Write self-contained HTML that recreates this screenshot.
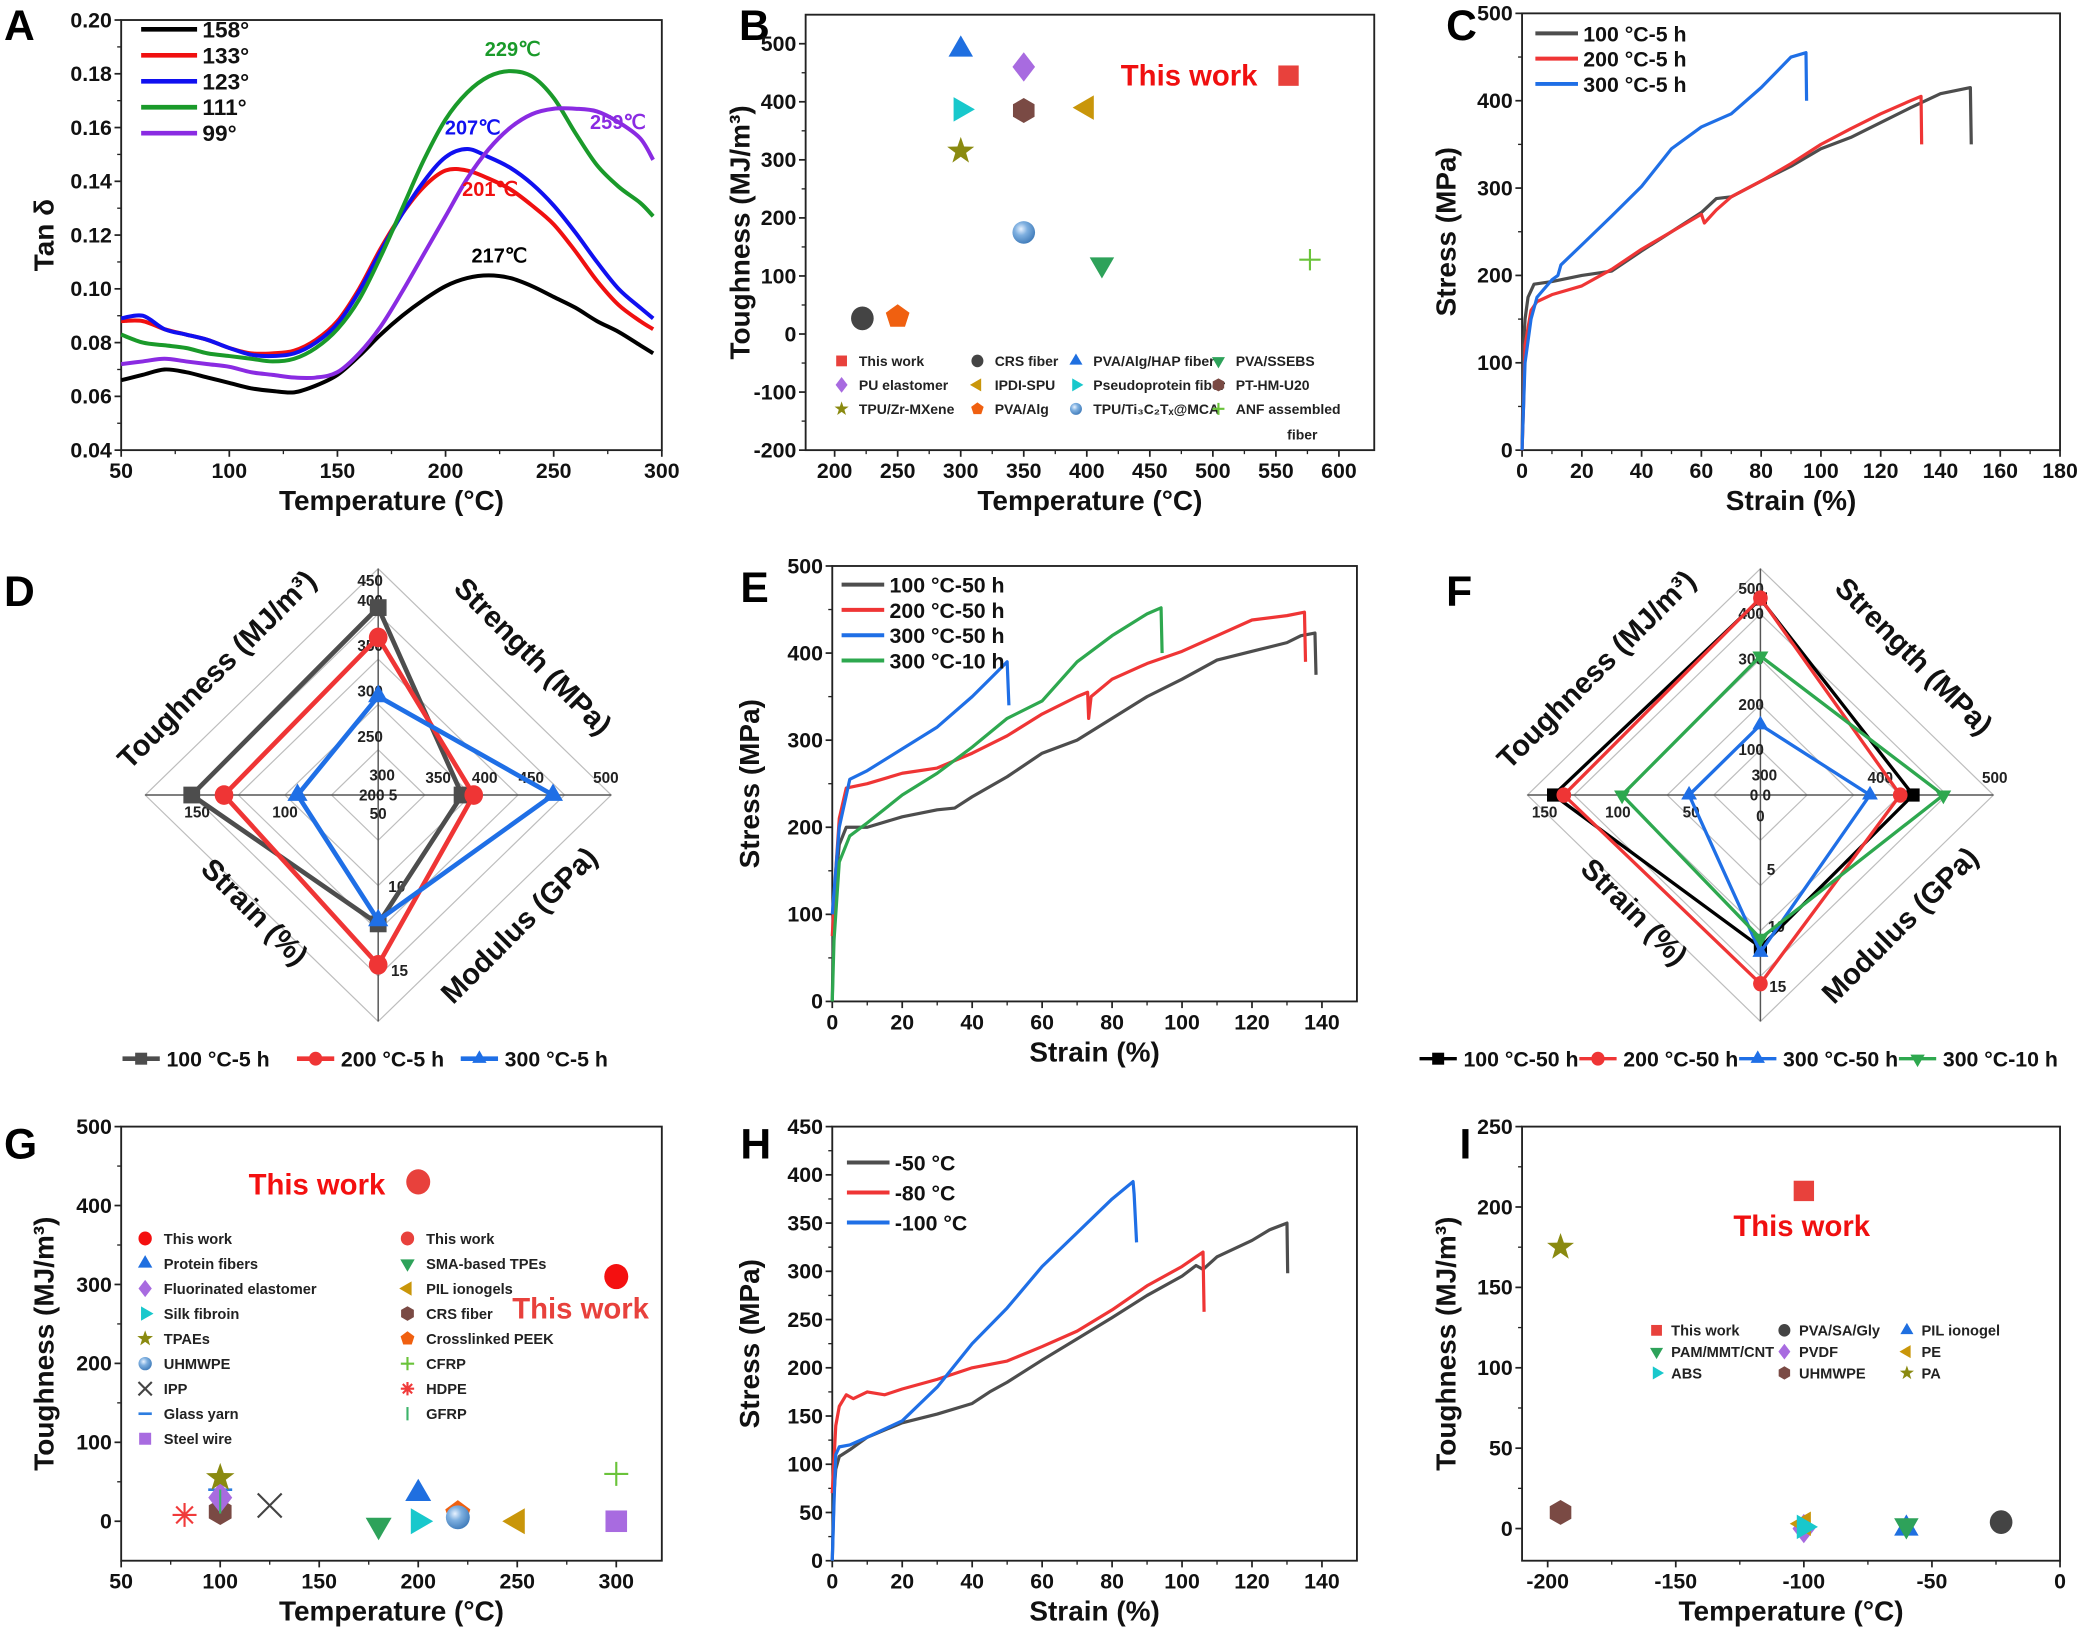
<!DOCTYPE html>
<html><head><meta charset="utf-8"><title>Composite figure</title>
<style>html,body{margin:0;padding:0;background:#fff}svg{display:block}text{font-family:"Liberation Sans",Arial,sans-serif;font-weight:bold}</style>
</head><body>
<svg id="fig" xmlns="http://www.w3.org/2000/svg" width="2088" height="1634" viewBox="0 0 1568 1227">
<defs><radialGradient id="sph" cx="0.38" cy="0.35" r="0.7"><stop offset="0" stop-color="#e8f2ff"/><stop offset="0.4" stop-color="#7fb0e0"/><stop offset="1" stop-color="#3d79b8"/></radialGradient></defs>
<rect x="0" y="0" width="1568" height="1227" fill="#fff"/>
</svg>
<script>
// ===== DATA =====
// Panel A
const aX=[50,60,70,80,90,100,110,120,130,140,150,160,170,180,190,200,210,220,230,240,250,260,270,280,290,296];
const a158=[.066,.068,.070,.069,.067,.065,.063,.062,.0615,.064,.068,.075,.083,.090,.096,.101,.104,.105,.104,.101,.097,.093,.088,.084,.079,.076];
const a133=[.088,.088,.085,.083,.081,.078,.076,.076,.077,.081,.088,.100,.115,.128,.138,.144,.144,.141,.137,.131,.124,.114,.103,.094,.088,.085];
const a123=[.089,.090,.085,.083,.081,.078,.0755,.075,.076,.080,.087,.099,.114,.128,.140,.149,.152,.149,.145,.139,.131,.121,.110,.100,.093,.089];
const a111=[.083,.080,.079,.078,.076,.075,.074,.073,.074,.078,.085,.096,.112,.130,.148,.163,.173,.179,.181,.179,.171,.158,.146,.138,.132,.127];
const a99=[.072,.073,.074,.073,.072,.071,.069,.068,.067,.067,.069,.076,.086,.099,.113,.127,.141,.152,.160,.165,.167,.167,.166,.162,.156,.148];
const aNames=['158°','133°','123°','111°','99°'];
const aXTicks=[50,100,150,200,250,300];
const aYTicks=[0.04,0.06,0.08,0.10,0.12,0.14,0.16,0.18,0.20];
// Panel B
const bNames=['This work','CRS fiber','PVA/Alg/HAP fiber','PVA/SSEBS','PU elastomer','IPDI-SPU','Pseudoprotein fiber','PT-HM-U20','TPU/Zr-MXene','PVA/Alg','TPU/Ti₃C₂Tₓ@MCA','ANF assembled'];
const bTemp=[560,222,300,412,350,400,300,350,300,250,350,577];
const bTough=[445,27,490,120,460,390,387,385,315,30,175,128];
const bXTicks=[200,250,300,350,400,450,500,550,600];
const bYTicks=[-200,-100,0,100,200,300,400,500];
// Panel C
const c100x=[0,0.5,1,2,4,10,20,30,40,50,60,65,70,80,90,100,110,120,130,140,150,150.3];
const c100y=[0,120,150,175,190,193,200,205,228,250,272,288,290,308,325,345,358,375,392,408,415,350];
const c200x=[0,0.5,1,3,5,10,20,30,40,50,60,61,65,70,80,90,100,110,120,130,133.5,133.7];
const c200y=[0,50,120,160,170,178,188,207,230,250,270,260,275,290,308,328,350,368,385,400,405,350];
const c300x=[0,1,3,5,10,12,13,20,30,40,50,60,70,80,90,95,95.2];
const c300y=[0,100,150,175,195,200,212,235,268,302,345,370,385,415,450,455,400];
const cXTicks=[0,20,40,60,80,100,120,140,160,180];
const cYTicks=[0,100,200,300,400,500];
// Panel D radar (toughness, strength, modulus, strain)
const dTough=[407,374,309];
const dStrength=[372,382,450];
const dModulus=[12.4,14.75,12.2];
const dStrain=[154,136,95];
const dNames=['100 °C-5 h','200 °C-5 h','300 °C-5 h'];
// Panel E
const e1x=[0,0.5,2,4,10,20,30,35,40,50,60,70,80,90,100,110,120,130,134,138,138.3];
const e1y=[0,120,180,200,200,212,220,222,235,258,285,300,325,350,370,392,402,412,420,423,375];
const e2x=[0,1,2,4,10,20,30,40,50,60,70,73,73.3,74,80,90,100,110,120,130,135,135.3];
const e2y=[75,150,210,245,250,262,268,285,305,330,350,355,325,350,370,388,402,420,438,443,447,390];
const e3x=[0,2,5,10,20,30,40,45,50,50.5];
const e3y=[100,200,255,265,290,315,350,370,390,340];
const e4x=[0,0.5,2,5,10,20,30,40,50,60,70,80,90,94,94.3];
const e4y=[0,70,160,190,205,237,262,292,325,345,390,420,445,452,400];
const eXTicks=[0,20,40,60,80,100,120,140];
const eYTicks=[0,100,200,300,400,500];
// Panel F radar
const fTough=[433,435,155,307];
const fStrength=[431,420,394,457];
const fModulus=[12.1,15,12.5,11.4];
const fStrain=[142,135,49,95];
const fNames=['100 °C-50 h','200 °C-50 h','300 °C-50 h','300 °C-10 h'];
// Panel G
const gNames=['This work','This work','Protein fibers','SMA-based TPEs','Fluorinated elastomer','PIL ionogels','Silk fibroin','CRS fiber','TPAEs','Crosslinked PEEK','UHMWPE','CFRP','IPP','HDPE','Glass yarn','GFRP','Steel wire'];
const gTemp=[300,200,200,180,100,250,200,100,100,220,220,300,125,82,100,100,300];
const gTough=[310,430,35,-5,30,0,0,12,55,10,5,60,20,8,40,25,0];
const gXTicks=[50,100,150,200,250,300];
const gYTicks=[0,100,200,300,400,500];
// Panel H
const h1x=[0,0.5,1,2,5,10,20,30,40,45,50,60,70,80,90,100,104,106,110,120,125,130,130.2];
const h1y=[0,70,95,108,115,128,143,152,163,175,185,208,230,252,275,295,306,302,315,332,343,350,298];
const h2x=[0,1,2,4,6,10,15,20,30,40,50,60,70,80,90,100,106,106.3];
const h2y=[70,140,160,172,168,175,172,178,188,200,207,222,238,260,285,305,320,258];
const h3x=[0,0.5,1,2,5,10,20,30,40,50,60,70,80,86,86.3,87];
const h3y=[0,60,110,118,120,128,145,180,225,262,305,340,375,393,380,330];
const hXTicks=[0,20,40,60,80,100,120,140];
const hYTicks=[0,50,100,150,200,250,300,350,400,450];
// Panel I
const iNames=['This work','PVA/SA/Gly','PIL ionogel','PAM/MMT/CNT','PVDF','PE','ABS','UHMWPE','PA'];
const iTemp=[-100,-23,-60,-60,-100,-100,-100,-195,-195];
const iTough=[210,4,0,2,0,3,1,10,175];
const iXTicks=[-200,-150,-100,-50,0];
const iYTicks=[0,50,100,150,200,250];

// ===== HELPERS =====
const NS='http://www.w3.org/2000/svg';
const SVG=document.getElementById('fig');
function mk(tag,attrs,parent){const e=document.createElementNS(NS,tag);for(const k in attrs)e.setAttribute(k,attrs[k]);(parent||SVG).appendChild(e);return e;}
function T(x,y,s,size,fill,anchor,parent,rot){const e=mk('text',{x:x,y:y,'font-size':size,fill:fill||'#111','text-anchor':anchor||'start'},parent);if(rot!==undefined)e.setAttribute('transform','rotate('+rot+' '+x+' '+y+')');e.textContent=s;return e;}
function lin(d0,d1,r0,r1){return v=>r0+(v-d0)*(r1-r0)/(d1-d0);}
function grp(name){const g=mk('g',{});return g;}

function axes(g,p){
  const X=lin(p.xd[0],p.xd[1],p.x0,p.x1),Y=lin(p.yd[0],p.yd[1],p.y1,p.y0);
  const box=mk('rect',{x:p.x0,y:p.y0,width:p.x1-p.x0,height:p.y1-p.y0,fill:'none',stroke:'#222','stroke-width':1.4},g);
  
  
  p.xt.forEach((v,i)=>{const x=X(v);mk('line',{x1:x,x2:x,y1:p.y1,y2:p.y1+5,stroke:'#222','stroke-width':1.3},g);
    const t=T(x,p.y1+21,String(v),16,'#111','middle',g);
    if(i<p.xt.length-1){const xm=X((v+p.xt[i+1])/2);mk('line',{x1:xm,x2:xm,y1:p.y1,y2:p.y1+3,stroke:'#222','stroke-width':1},g);}});
  p.yt.forEach((v,i)=>{const y=Y(v);mk('line',{x1:p.x0-5,x2:p.x0,y1:y,y2:y,stroke:'#222','stroke-width':1.3},g);
    const t=T(p.x0-7,y+5.5,p.yf?p.yf(v):String(v),16,'#111','end',g);
    if(i<p.yt.length-1){const ym=Y((v+p.yt[i+1])/2);mk('line',{x1:p.x0-3,x2:p.x0,y1:ym,y2:ym,stroke:'#222','stroke-width':1},g);}});
  const xt=T((p.x0+p.x1)/2,p.y1+45,p.xtitle,21,'#111','middle',g);
  const yt=T(p.ytx,(p.y0+p.y1)/2,p.ytitle,21,'#111','middle',g,-90);
  return [X,Y];
}
function letter(g,x,y,s){const t=T(x,y,s,32,'#000','start',g);}
function smoothPath(pts){let d='M'+pts[0][0]+','+pts[0][1];for(let i=0;i<pts.length-1;i++){const p0=pts[i-1]||pts[i],p1=pts[i],p2=pts[i+1],p3=pts[i+2]||p2;d+=' C'+(p1[0]+(p2[0]-p0[0])/6)+','+(p1[1]+(p2[1]-p0[1])/6)+' '+(p2[0]-(p3[0]-p1[0])/6)+','+(p2[1]-(p3[1]-p1[1])/6)+' '+p2[0]+','+p2[1];}return d;}
function poly(pts){return 'M'+pts.map(p=>p[0]+','+p[1]).join(' L');}

function marker(g,shape,x,y,r,color){
  let e;
  const P=a=>a.map(q=>q[0].toFixed(1)+','+q[1].toFixed(1)).join(' ');
  const reg=(n,rot,rr)=>{const a=[];for(let i=0;i<n;i++){const t=rot+i*2*Math.PI/n;a.push([x+rr*Math.cos(t),y+rr*Math.sin(t)]);}return a;};
  switch(shape){
    case 'square': e=mk('rect',{x:x-r*0.9,y:y-r*0.9,width:r*1.8,height:r*1.8,fill:color},g);break;
    case 'circle': e=mk('ellipse',{cx:x,cy:y,rx:r,ry:r*1.05,fill:color},g);break;
    case 'sphere': e=mk('circle',{cx:x,cy:y,r:r,fill:'url(#sph)'},g);break;
    case 'up': e=mk('polygon',{points:P(reg(3,-Math.PI/2,r*1.25)),fill:color},g);break;
    case 'down': e=mk('polygon',{points:P(reg(3,Math.PI/2,r*1.25)),fill:color},g);break;
    case 'left': e=mk('polygon',{points:P(reg(3,Math.PI,r*1.25)),fill:color},g);break;
    case 'right': e=mk('polygon',{points:P(reg(3,0,r*1.25)),fill:color},g);break;
    case 'diamond': e=mk('polygon',{points:P([[x,y-r*1.3],[x+r,y],[x,y+r*1.3],[x-r,y]]),fill:color},g);break;
    case 'hex': e=mk('polygon',{points:P(reg(6,-Math.PI/2,r*1.1)),fill:color},g);break;
    case 'pent': e=mk('polygon',{points:P(reg(5,-Math.PI/2,r*1.1)),fill:color},g);break;
    case 'star': {const a=[];for(let i=0;i<10;i++){const t=-Math.PI/2+i*Math.PI/5,rr=i%2?r*0.5:r*1.25;a.push([x+rr*Math.cos(t),y+rr*Math.sin(t)]);}e=mk('polygon',{points:P(a),fill:color},g);break;}
    case 'plus': e=mk('path',{d:`M${x-r},${y}H${x+r}M${x},${y-r}V${y+r}`,stroke:color,'stroke-width':1.6,fill:'none'},g);break;
    case 'x': e=mk('path',{d:`M${x-r},${y-r}L${x+r},${y+r}M${x-r},${y+r}L${x+r},${y-r}`,stroke:color,'stroke-width':1.6,fill:'none'},g);break;
    case 'ast': e=mk('path',{d:`M${x-r},${y}H${x+r}M${x},${y-r}V${y+r}M${x-r*.7},${y-r*.7}L${x+r*.7},${y+r*.7}M${x-r*.7},${y+r*.7}L${x+r*.7},${y-r*.7}`,stroke:color,'stroke-width':1.6,fill:'none'},g);break;
    case 'hline': e=mk('path',{d:`M${x-r},${y}H${x+r}`,stroke:color,'stroke-width':2,fill:'none'},g);break;
    case 'vline': e=mk('path',{d:`M${x},${y-r}V${y+r}`,stroke:color,'stroke-width':1.6,fill:'none'},g);break;
  }
  return e;
}

// ===== PANEL A =====
(function(){
  const g=grp('panel-a-tan-delta');
  letter(g,3,30,'A');
  const [X,Y]=axes(g,{x0:91,x1:497,y0:15,y1:338,xd:[50,300],yd:[0.04,0.20],xt:aXTicks,yt:aYTicks,yf:v=>v.toFixed(2),xtitle:'Temperature (°C)',ytitle:'Tan δ',ytx:40});
  const cols=['#000','#f01010','#1010f0','#1a9a2a','#8a2be2'];
  [a158,a133,a123,a111,a99].forEach((s,k)=>{
    const path=mk('path',{d:smoothPath(aX.map((x,i)=>[X(x),Y(s[i])])),fill:'none',stroke:cols[k],'stroke-width':3},g);
    
    
    const ly=22+k*19.5;
    mk('line',{x1:106,x2:148,y1:ly,y2:ly,stroke:cols[k],'stroke-width':3.5},g);
    const lt=T(152,ly+6,aNames[k],17,'#111','start',g);
    
    
  });
  [['229℃',385,42,cols[3]],['259℃',464,97,cols[4]],['207℃',355,101,cols[2]],['201℃',368,147,cols[1]],['217℃',375,197,cols[0]]].forEach(a=>{const t=T(a[1],a[2],a[0],15,a[3],'middle',g);});
})();

// ===== PANEL B =====
(function(){
  const g=grp('panel-b-toughness-temperature');
  letter(g,555,30,'B');
  const [X,Y]=axes(g,{x0:605,x1:1032,y0:11,y1:338,xd:[177,628],yd:[-200,550],xt:bXTicks,yt:bYTicks,xtitle:'Temperature (°C)',ytitle:'Toughness (MJ/m³)',ytx:563});
  const shapes=['square','circle','up','down','diamond','left','right','hex','star','pent','sphere','plus'];
  const cols=['#e8413c','#444','#1f6fe0','#2ea25a','#a86be0','#c9960a','#18c8cc','#7a4a44','#8a8a10','#f06010','#5b9bd5','#6ac33a'];
  bNames.forEach((n,i)=>{
    const m=marker(g,shapes[i],X(bTemp[i]),Y(bTough[i]),i===11?8:8.5,cols[i]);
    
    
  });
  const tw=T(893,64,'This work',22,'#f01010','middle',g);
  
  
  const lx=[632,734,808,915],ly=[275,293,311];
  const order=[[0,1,2,3],[4,5,6,7],[8,9,10,11]];
  order.forEach((row,r)=>row.forEach((idx,c)=>{
    marker(g,shapes[idx],lx[c],ly[r]-4,4.5,cols[idx]);
    const t=T(lx[c]+13,ly[r],bNames[idx],10.5,'#222','start',g);
    
    
  }));
  T(978,330,'fiber',10.5,'#222','middle',g);
})();

// ===== generic line panel =====
function linePanel(name,L,ax,series,legend){
  const g=grp(name);
  letter(g,L[0],L[1],L[2]);
  const [X,Y]=axes(g,ax);
  series.forEach(s=>{
    const p=mk('path',{d:poly(s.x.map((x,i)=>[X(x),Y(s.y[i])])),fill:'none',stroke:s.c,'stroke-width':2.4,'stroke-linejoin':'round'},g);
    
    
  });
  series.forEach((s,k)=>{
    const ly=legend.y+k*legend.dy;
    mk('line',{x1:legend.x,x2:legend.x+32,y1:ly,y2:ly,stroke:s.c,'stroke-width':3},g);
    const t=T(legend.x+36,ly+6,s.n,16,'#111','start',g);
    
    
  });
}
const GR='#4d4d4d',RD='#ef3535',BL='#1f6fe6',GN='#2ea84f';
linePanel('panel-c-stress-strain-5h',[1086,30,'C'],{x0:1143,x1:1547,y0:10,y1:338,xd:[0,180],yd:[0,500],xt:cXTicks,yt:cYTicks,xtitle:'Strain (%)',ytitle:'Stress (MPa)',ytx:1093},
 [{x:c100x,y:c100y,c:GR,n:'100 °C-5 h'},{x:c200x,y:c200y,c:RD,n:'200 °C-5 h'},{x:c300x,y:c300y,c:BL,n:'300 °C-5 h'}],{x:1153,y:25,dy:19});
linePanel('panel-e-stress-strain-50h',[556,452,'E'],{x0:625,x1:1019,y0:425,y1:752,xd:[0,150],yd:[0,500],xt:eXTicks,yt:eYTicks,xtitle:'Strain (%)',ytitle:'Stress (MPa)',ytx:570},
 [{x:e1x,y:e1y,c:GR,n:'100 °C-50 h'},{x:e2x,y:e2y,c:RD,n:'200 °C-50 h'},{x:e3x,y:e3y,c:BL,n:'300 °C-50 h'},{x:e4x,y:e4y,c:GN,n:'300 °C-10 h'}],{x:632,y:439,dy:19});
linePanel('panel-h-stress-strain-low-temp',[556,870,'H'],{x0:625,x1:1019,y0:846,y1:1172,xd:[0,150],yd:[0,450],xt:hXTicks,yt:hYTicks,xtitle:'Strain (%)',ytitle:'Stress (MPa)',ytx:570},
 [{x:h1x,y:h1y,c:GR,n:'-50 °C'},{x:h2x,y:h2y,c:RD,n:'-80 °C'},{x:h3x,y:h3y,c:BL,n:'-100 °C'}],{x:636,y:873,dy:22.5});

// ===== RADAR =====
function radar(name,L,cx,cy,rx,ry,ranges,vals,labels,cols,shapes,names,legend,lw){
  const g=grp(name);
  letter(g,L[0],L[1],L[2]);
  for(let k=1;k<=5;k++){const f=k/5;mk('polygon',{points:`${cx},${cy-ry*f} ${cx+rx*f},${cy} ${cx},${cy+ry*f} ${cx-rx*f},${cy}`,fill:'none',stroke:'#bdbdbd','stroke-width':0.9},g);}
  mk('line',{x1:cx,x2:cx,y1:cy-ry,y2:cy+ry,stroke:'#555','stroke-width':1.1},g);
  mk('line',{x1:cx-rx,x2:cx+rx,y1:cy,y2:cy,stroke:'#555','stroke-width':1.1},g);
  labels.ticks.forEach(t=>T(t[1],t[2],t[0],11.5,'#222','middle',g));
  const pt=(a,v)=>{const f=(v-ranges[a][0])/(ranges[a][1]-ranges[a][0]);return a===0?[cx,cy-ry*f]:a===1?[cx+rx*f,cy]:a===2?[cx,cy+ry*f]:[cx-rx*f,cy];};
  names.forEach((n,s)=>{
    const pts=[0,1,2,3].map(a=>pt(a,vals[a][s]));
    const p=mk('polygon',{points:pts.map(q=>q.join(',')).join(' '),fill:'none',stroke:cols[s],'stroke-width':lw},g);
    
    
    pts.forEach(q=>marker(g,shapes[s],q[0],q[1],lw>3?7:5.5,cols[s]));
  });
  labels.axes.forEach(a=>{const t=T(a[1],a[2],a[0],22,'#111','middle',g,a[3]);});
  names.forEach((n,s)=>{
    const lx=legend.x[s];
    mk('line',{x1:lx-14,x2:lx+14,y1:legend.y,y2:legend.y,stroke:cols[s],'stroke-width':lw},g);
    marker(g,shapes[s],lx,legend.y,5,cols[s]);
    const t=T(lx+19,legend.y+6,n,16,'#111','start',g);
    
    
  });
}
radar('panel-d-radar-5h',[3,455,'D'],284,597,175,170,[[200,450],[300,500],[5,18],[50,180]],[dTough,dStrength,dModulus,dStrain],
 {ticks:[['250',278,557],['300',278,523],['350',278,489],['400',278,455],['450',278,440],['350',329,588],['400',364,588],['450',399,588],['500',455,588],['300',287,586],['200 5',284,601],['50',284,615],['100',214,614],['150',148,614],['10',298,670],['15',300,733]],
  axes:[['Toughness (MJ/m³)',168,508,-45],['Strength (MPa)',395,498,45],['Strain (%)',186,690,45],['Modulus (GPa)',395,700,-45]]},
 [GR,RD,BL],['square','circle','up'],dNames,{x:[106,237,360],y:795},3.5);
radar('panel-f-radar-50h',[1086,455,'F'],1322,597,175,170,[[0,500],[300,500],[0,18],[0,160]],[fTough,fStrength,fModulus,fStrain],
 {ticks:[['100',1315,567],['200',1315,533],['300',1315,499],['400',1315,465],['500',1315,446],['400',1412,588],['500',1498,588],['300',1325,586],['0 0',1322,601],['0',1322,617],['50',1270,614],['100',1215,614],['150',1160,614],['5',1330,657],['10',1334,700],['15',1335,745]],
  axes:[['Toughness (MJ/m³)',1204,508,-45],['Strength (MPa)',1432,498,45],['Strain (%)',1222,690,45],['Modulus (GPa)',1432,700,-45]]},
 ['#000',RD,BL,GN],['square','circle','up','down'],fNames,{x:[1080,1200,1320,1440],y:795},2.5);

// ===== PANEL G =====
(function(){
  const g=grp('panel-g-toughness-temperature');
  letter(g,3,870,'G');
  const [X,Y]=axes(g,{x0:91,x1:497,y0:846,y1:1172,xd:[50,323],yd:[-50,500],xt:gXTicks,yt:gYTicks,xtitle:'Temperature (°C)',ytitle:'Toughness (MJ/m³)',ytx:40});
  const shapes=['circle','circle','up','down','diamond','left','right','hex','star','pent','sphere','plus','x','ast','hline','vline','square'];
  const cols=['#f41010','#e8413c','#1f6fe0','#2ea25a','#a86be0','#c9960a','#18c8cc','#7a4a44','#8a8a10','#f06010','#5b9bd5','#6ac33a','#444','#f03a3a','#2d7de0','#3cb36a','#a86be0'];
  const drawOrder=[14,13,7,4,8,15,12,3,6,2,9,10,5,16,11,1,0];
  drawOrder.forEach(i=>{
    const m=marker(g,shapes[i],X(gTemp[i]),Y(gTough[i]),9,cols[i]);
    
    
  });
  const t1=T(238,897,'This work',22,'#f41010','middle',g);
  
  
  const t2=T(436,990,'This work',22,'#e8413c','middle',g);
  
  
  gNames.forEach((n,i)=>{
    const col=i%2,row=Math.floor(i/2);
    const lx=col?306:109,ly=934+row*18.8;
    marker(g,shapes[i],lx,ly-4,5,cols[i]);
    const t=T(lx+14,ly,n,11,'#222','start',g);
    
    
  });
})();

// ===== PANEL I =====
(function(){
  const g=grp('panel-i-toughness-low-temp');
  letter(g,1096,870,'I');
  const [X,Y]=axes(g,{x0:1143,x1:1547,y0:846,y1:1172,xd:[-210,0],yd:[-20,250],xt:iXTicks,yt:iYTicks,xtitle:'Temperature (°C)',ytitle:'Toughness (MJ/m³)',ytx:1093});
  const shapes=['square','circle','up','down','diamond','left','right','hex','star'];
  const cols=['#e8413c','#444','#1f6fe0','#2ea25a','#a86be0','#c9960a','#18c8cc','#7a4a44','#8a8a10'];
  iNames.forEach((n,i)=>{
    const m=marker(g,shapes[i],X(iTemp[i]),Y(iTough[i]),8.5,cols[i]);
    
    
  });
  const tw=T(1353,928,'This work',22,'#f01010','middle',g);
  
  
  const lx=[1244,1340,1432];
  const order=[[0,1,2],[3,4,5],[6,7,8]];
  order.forEach((row,r)=>row.forEach((idx,c)=>{
    marker(g,shapes[idx],lx[c],1003+r*16-4,4.5,cols[idx]);
    const t=T(lx[c]+11,1003+r*16,iNames[idx],11,'#222','start',g);
    
    
  }));
})();
</script>
</body></html>
